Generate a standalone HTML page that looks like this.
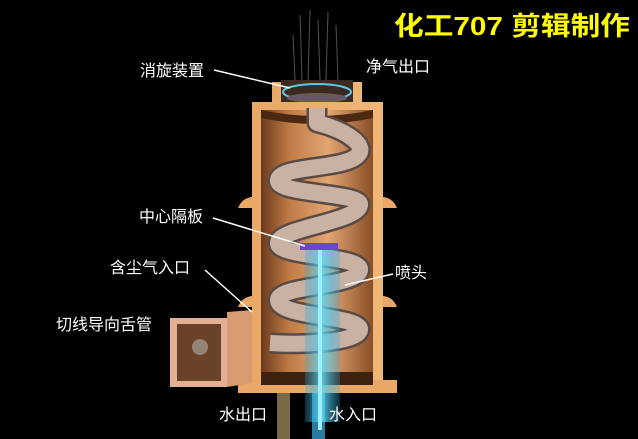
<!DOCTYPE html>
<html><head><meta charset="utf-8"><style>
html,body{margin:0;padding:0;background:#000;}
svg{display:block;}
text{font-family:"Liberation Sans","Noto Sans CJK SC",sans-serif;}
</style></head><body>
<svg width="638" height="439" viewBox="0 0 638 439" xmlns="http://www.w3.org/2000/svg">
<defs>
<linearGradient id="wall" x1="0" x2="1" y1="0" y2="0">
<stop offset="0" stop-color="#6b3a1c"/><stop offset="0.25" stop-color="#c07a45"/><stop offset="0.6" stop-color="#e2a673"/><stop offset="1" stop-color="#8a4e28"/>
</linearGradient>
<linearGradient id="shell" x1="0" x2="1"><stop offset="0" stop-color="#e9a866"/><stop offset="1" stop-color="#f0b676"/></linearGradient>
<linearGradient id="jet" x1="0" x2="1"><stop offset="0" stop-color="#2aa8d8" stop-opacity="0.3"/><stop offset="0.5" stop-color="#5fd8f5"/><stop offset="1" stop-color="#2aa8d8" stop-opacity="0.3"/></linearGradient>
</defs>
<rect width="638" height="439" fill="#000"/>
<g stroke="#888" stroke-width="1" opacity="0.6">
<line x1="300" y1="15" x2="302" y2="80"/><line x1="310" y1="10" x2="308" y2="80"/><line x1="318" y1="20" x2="320" y2="80"/><line x1="328" y1="12" x2="326" y2="80"/><line x1="336" y1="25" x2="338" y2="80"/><line x1="293" y1="35" x2="295" y2="80"/>
</g>
<text x="394" y="35" font-size="26" font-weight="bold" fill="#ffff00" textLength="236" lengthAdjust="spacingAndGlyphs">化工707 剪辑制作</text>
<rect x="272" y="82" width="90" height="22" fill="url(#shell)"/>
<rect x="281" y="80" width="72" height="24" fill="#3a2a20"/>
<ellipse cx="317" cy="92" rx="34" ry="8" fill="none" stroke="#5ec8e8" stroke-width="2"/>
<ellipse cx="317" cy="98" rx="30" ry="5" fill="#6a5a55"/>
<path d="M238 208 Q242 198 252 197 L252 208 Z M397 208 Q393 198 383 197 L383 208 Z M238 307 Q242 297 252 296 L252 307 Z M397 307 Q393 297 383 296 L383 307 Z" fill="#eaa868"/>
<rect x="252" y="102" width="131" height="291" fill="url(#shell)"/>
<rect x="238" y="380" width="159" height="13" fill="#eaa868"/>
<rect x="261" y="110" width="112" height="275" fill="url(#wall)"/>
<path d="M261 110 Q317 122 373 110 L373 118 Q317 130 261 118Z" fill="#4a2812"/>
<rect x="261" y="372" width="112" height="13" fill="#3d2210"/>
<path d="M227 312 L252 310 L252 383 L227 387 Z" fill="#d89a70"/>
<rect x="170" y="318" width="57" height="69" fill="#e2b094"/>
<rect x="177" y="324" width="44" height="57" fill="#6a4228"/>
<circle cx="200" cy="347" r="8" fill="#a8a098" opacity="0.7"/>
<rect x="277" y="393" width="13" height="46" fill="#7a6a48"/>
<rect x="312" y="393" width="13" height="46" fill="#2a7aa0"/>
<path d="M317 108 L317 123 C345 130 368 145 358 155 C345 170 280 165 278 180 C276 195 362 192 360 205 C358 222 278 228 278 243 C278 258 362 255 360 270 C358 287 278 285 278 300 C278 318 362 315 360 330 C358 343 300 345 270 343" fill="none" stroke="#5a4a44" stroke-width="21" stroke-linejoin="round"/>
<path d="M317 108 L317 123 C345 130 368 145 358 155 C345 170 280 165 278 180 C276 195 362 192 360 205 C358 222 278 228 278 243 C278 258 362 255 360 270 C358 287 278 285 278 300 C278 318 362 315 360 330 C358 343 300 345 270 343" fill="none" stroke="#c9b2a4" stroke-width="16" stroke-linejoin="round"/>
<rect x="300" y="243" width="38" height="7" fill="#6a48c8"/>
<rect x="305" y="250" width="35" height="172" fill="url(#jet)" opacity="0.85"/>
<rect x="318" y="250" width="4" height="180" fill="#9fefff"/>
<g stroke="#fff" stroke-width="1.5" fill="none">
<line x1="214" y1="70" x2="290" y2="88"/>
<line x1="213" y1="218" x2="305" y2="246"/>
<line x1="205" y1="270" x2="252" y2="312"/>
<line x1="393" y1="274" x2="345" y2="285"/>
</g>
<g font-size="16" fill="#fff">
<text x="140" y="76">消旋装置</text>
<text x="366" y="72">净气出口</text>
<text x="139" y="222">中心隔板</text>
<text x="110" y="273">含尘气入口</text>
<text x="395" y="278">喷头</text>
<text x="56" y="330">切线导向舌管</text>
<text x="219" y="420">水出口</text>
<text x="329" y="420">水入口</text>
</g>
</svg>
</body></html>
